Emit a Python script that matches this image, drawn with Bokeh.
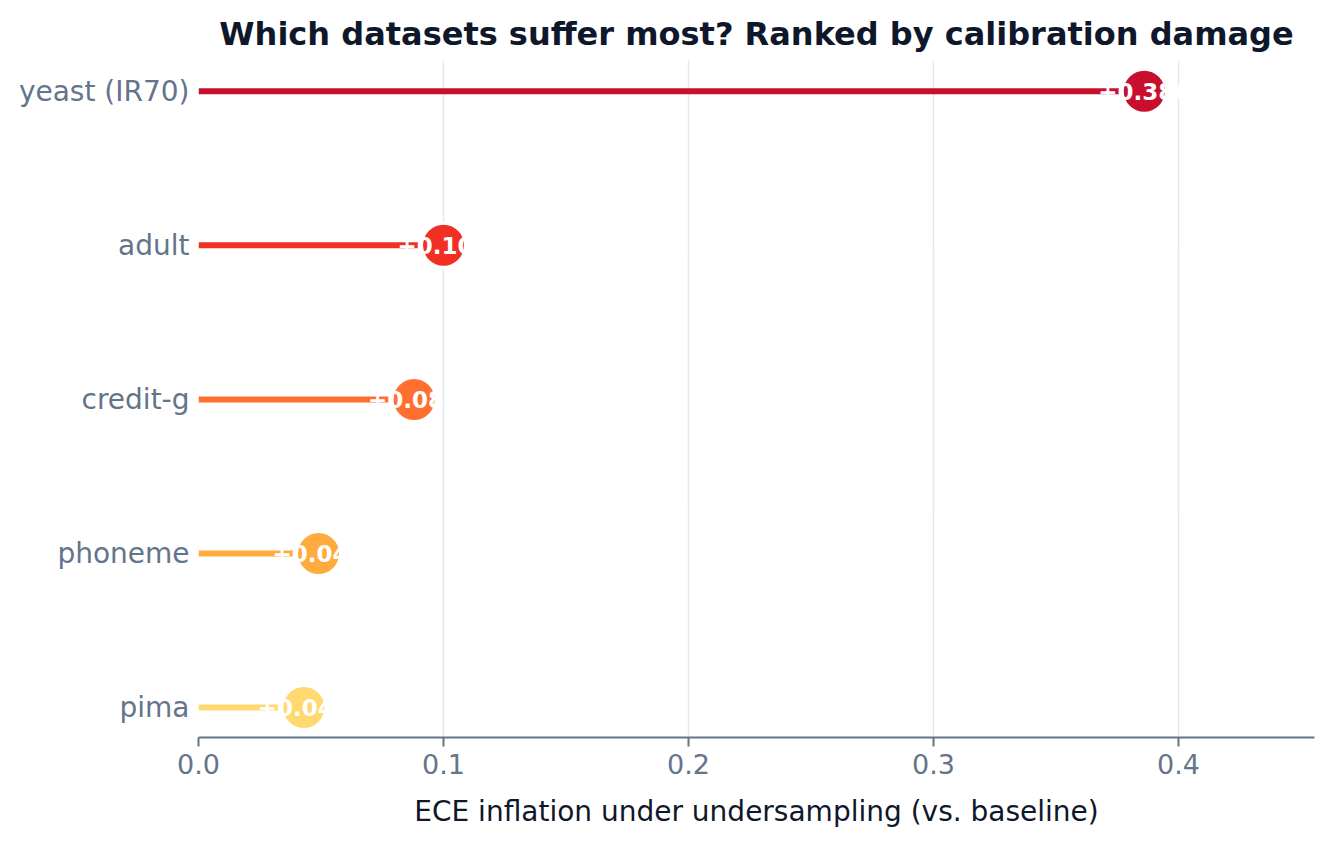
from bokeh.plotting import figure
from bokeh.models import ColumnDataSource, Range1d, FixedTicker
from bokeh.core.properties import value
from bokeh.embed import file_html
from bokeh.resources import INLINE

datasets = ["yeast (IR70)", "adult", "credit-g", "phoneme", "pima"]
inflation = [0.386, 0.100, 0.088, 0.049, 0.043]
colors = ["#c8102e", "#f22f23", "#ff6f30", "#ffab40", "#ffd970"]
x_ticks = [0.0, 0.1, 0.2, 0.3, 0.4]

n = len(datasets)
ypos = [n - 1 - i for i in range(n)]
labels = ["+{:.3f}".format(v) for v in inflation]

src = ColumnDataSource(dict(name=datasets, val=inflation, y=ypos, color=colors,
                            zero=[0.0] * n, label=labels))

FONT = "DejaVu Sans"
p = figure(width=1334, height=844, output_backend="svg", toolbar_location=None,
           x_range=Range1d(0, 0.4555), y_range=Range1d(-0.195, n - 1 + 0.2),
           min_border_left=198, min_border_right=20, min_border_top=60,
           min_border_bottom=107)

p.title.text = "Which datasets suffer most? Ranked by calibration damage"
p.title.text_font = FONT
p.title.text_font_size = "32px"
p.title.text_font_style = "bold"
p.title.text_color = "#0f172a"
p.title.align = "center"
p.title.standoff = 15

p.segment(x0="zero", y0="y", x1="val", y1="y", line_color="color", line_width=6, source=src)
p.scatter(x="val", y="y", size=44, fill_color="color", line_color="white", line_width=3, source=src)
p.text(x="val", y="y", text="label", text_align="center", text_baseline="middle",
       text_font=value(FONT), text_font_size="23px", text_font_style="bold",
       text_color="white", source=src)

p.outline_line_color = None
p.ygrid.grid_line_color = None
p.xgrid.grid_line_color = "#e2e8f0"
p.xgrid.grid_line_width = 1.5
p.xgrid.ticker = FixedTicker(ticks=x_ticks)

p.xaxis.ticker = FixedTicker(ticks=x_ticks)
p.xaxis.minor_tick_line_color = None
p.xaxis.axis_line_color = "#64748b"
p.xaxis.axis_line_width = 2
p.xaxis.major_tick_line_color = "#64748b"
p.xaxis.major_tick_line_width = 2
p.xaxis.major_tick_out = 9
p.xaxis.major_tick_in = 0
p.xaxis.major_label_standoff = 7
p.xaxis.major_label_text_font = FONT
p.xaxis.major_label_text_font_size = "27px"
p.xaxis.major_label_text_color = "#64748b"
p.xaxis.major_label_overrides = {t: "{:.1f}".format(t) for t in x_ticks}
p.xaxis.axis_label = "ECE inflation under undersampling (vs. baseline)"
p.xaxis.axis_label_text_font = FONT
p.xaxis.axis_label_text_font_size = "28px"
p.xaxis.axis_label_text_font_style = "normal"
p.xaxis.axis_label_text_color = "#0f172a"
p.xaxis.axis_label_standoff = 18

p.yaxis.ticker = FixedTicker(ticks=ypos)
p.yaxis.major_label_overrides = {y: nm for y, nm in zip(ypos, datasets)}
p.yaxis.axis_line_color = None
p.yaxis.major_tick_line_color = None
p.yaxis.minor_tick_line_color = None
p.yaxis.major_tick_out = 0
p.yaxis.major_label_standoff = 9
p.yaxis.major_label_text_font = FONT
p.yaxis.major_label_text_font_size = "28px"
p.yaxis.major_label_text_color = "#64748b"

open("out.html", "w").write(file_html(p, INLINE))
